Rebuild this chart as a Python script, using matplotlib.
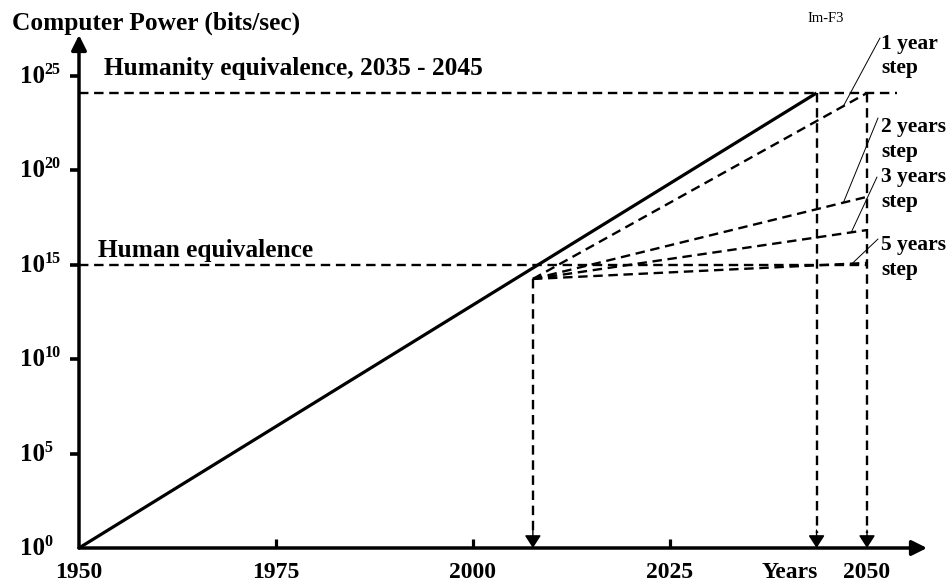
import numpy as np
import matplotlib
matplotlib.use("Agg")
import matplotlib.pyplot as plt
import matplotlib.transforms as mtransforms
from matplotlib.ticker import NullLocator

# ---------------- data ----------------
trend_years = [1950, 2043.6]          # solid growth line
trend_log = [0.0, 24.1]               # log10(bits/sec)
human_level_log = 15.0                # human equivalence
humanity_level_log = 24.1             # humanity equivalence
fan_start_year = 2007.6
fan_start_log = 14.25
fan_end_year = 2050
step_labels = ["1 year\nstep", "2 years\nstep", "3 years\nstep", "5 years\nstep"]
step_end_log = [24.1, 18.6, 16.84, 15.1]
arrow_years = [2007.6, 2043.6, 2050]
x_tick_years = [1950, 1975, 2000, 2025, 2050]
x_tick_labels = ["1950", "1975", "2000", "2025", "2050"]
y_tick_exps = [0, 5, 10, 15, 20, 25]

# ---------------- layout ----------------
W, H = 950, 584
X0, X1, Y0, Y1 = 79, 927, 548, 35          # axes box in pixels
PX_PER_YEAR = 7.88
PX_PER_DEC = 18.88
xmax = 1950 + (X1 - X0) / PX_PER_YEAR
ymax_log = (Y0 - Y1) / PX_PER_DEC

plt.rcParams["font.family"] = ["Liberation Serif", "DejaVu Serif"]
plt.rcParams["font.weight"] = "bold"

fig = plt.figure(figsize=(W / 100, H / 100), dpi=100)
ax = fig.add_axes([X0 / W, 1 - Y0 / H, (X1 - X0) / W, (Y0 - Y1) / H])
ax.set_yscale("log")
ax.set_xlim(1950, xmax)
ax.set_ylim(1, 10 ** ymax_log)
for s in ax.spines.values():
    s.set_visible(False)
ax.patch.set_visible(False)

# ticks
ax.set_xticks([y for y in x_tick_years if 1950 < y < 2050])
ax.set_yticks([10.0 ** e for e in y_tick_exps if e > 0])
ax.yaxis.set_minor_locator(NullLocator())
ax.xaxis.set_minor_locator(NullLocator())
ax.tick_params(axis="x", direction="in", length=6.5, width=2.3, labelbottom=False, bottom=True)
ax.tick_params(axis="y", direction="out", length=6.5, width=2.6, labelleft=False, left=True)

# axis arrows
ax_arrow = dict(arrowstyle="-|>,head_length=0.9,head_width=0.45", lw=2.5, color="black",
                shrinkA=0, shrinkB=0, mutation_scale=10)
ax.annotate("", xy=(xmax, 1), xytext=(1950, 1), arrowprops=ax_arrow, annotation_clip=False)
ax.annotate("", xy=(1950, 10 ** ymax_log), xytext=(1950, 1), arrowprops=ax_arrow, annotation_clip=False)

dash = dict(color="black", lw=1.7, linestyle=(0, (4, 2.4)))

# reference levels
ax.plot([1950, 2053.8], [10 ** humanity_level_log] * 2, **dash)
ax.plot([1950, fan_end_year], [10 ** human_level_log] * 2, **dash)

# solid trend
ax.plot(trend_years, [10.0 ** v for v in trend_log], color="black", lw=2.3, solid_capstyle="butt")

# fan of dashed step lines
fan_x = [fan_start_year, fan_end_year]
for end in step_end_log:
    ax.plot(fan_x, [10 ** fan_start_log, 10 ** end], **dash)

# vertical dashed arrows
tops = [fan_start_log, humanity_level_log, humanity_level_log]
head_arrow = dict(arrowstyle="-|>,head_length=0.78,head_width=0.5", lw=1.0, color="black",
                  shrinkA=0, shrinkB=0, mutation_scale=10)
for yr, top in zip(arrow_years, tops):
    ax.plot([yr, yr], [10 ** top, 10 ** 0.8], **dash)
    ax.annotate("", xy=(yr, 1), xytext=(yr, 10 ** 0.95), arrowprops=head_arrow, annotation_clip=False)

# leader lines and step labels
leader_years = [2047.0, 2047.0, 2048.0, 2048.1]
leader_start_px = [(880, 38), (878, 118), (877, 177), (878, 239)]
label_top_px = [34, 117, 167, 235]
for lab, end, ly, (sx, sy), ty in zip(step_labels, step_end_log, leader_years, leader_start_px, label_top_px):
    yv = np.interp(ly, fan_x, [fan_start_log, end])
    ax.annotate("", xy=(ly, 10 ** yv), xytext=(sx, H - sy), textcoords="figure pixels",
                arrowprops=dict(arrowstyle="-", lw=0.7, color="black", shrinkA=0, shrinkB=0),
                annotation_clip=False)
    fig.text(881 / W, 1 - ty / H, lab, fontsize=15.5, fontweight="bold", ha="left", va="top",
             linespacing=1.3)

# x tick labels
xlab_tr = mtransforms.offset_copy(ax.get_xaxis_transform(), fig=fig, y=-30, units="dots")
for yr, lab in zip(x_tick_years, x_tick_labels):
    ax.text(yr, 0, lab, transform=xlab_tr, ha="center", va="baseline", fontsize=17,
            fontweight="bold", clip_on=False)
fig.text(790 / W, 1 - 578 / H, "Years", ha="center", va="baseline", fontsize=17, fontweight="bold")

# y tick labels (10 with superscript exponent)
blend = mtransforms.blended_transform_factory(fig.transFigure, ax.transData)
base_tr = mtransforms.offset_copy(blend, fig=fig, y=-7, units="dots")
exp_tr = mtransforms.offset_copy(blend, fig=fig, y=2, units="dots")
for e in y_tick_exps:
    ax.text(20 / W, 10.0 ** e, "10", transform=base_tr, ha="left", va="baseline",
            fontsize=18, fontweight="bold", clip_on=False)
    ax.text(44.5 / W, 10.0 ** e, str(e), transform=exp_tr, ha="left", va="baseline",
            fontsize=11.5, fontweight="bold", clip_on=False)

# titles / annotations
fig.text(12 / W, 1 - 30 / H, "Computer Power (bits/sec)", fontsize=18.3, fontweight="bold",
         ha="left", va="baseline")
fig.text(104 / W, 1 - 75 / H, "Humanity equivalence, 2035 - 2045", fontsize=18.3,
         fontweight="bold", ha="left", va="baseline")
fig.text(98 / W, 1 - 257 / H, "Human equivalence", fontsize=18.3, fontweight="bold",
         ha="left", va="baseline")
fig.text(826 / W, 1 - 18 / H, "Im-F3", fontsize=10.5, fontweight="normal", ha="center", va="center")

fig.savefig("out.png", dpi=100)
